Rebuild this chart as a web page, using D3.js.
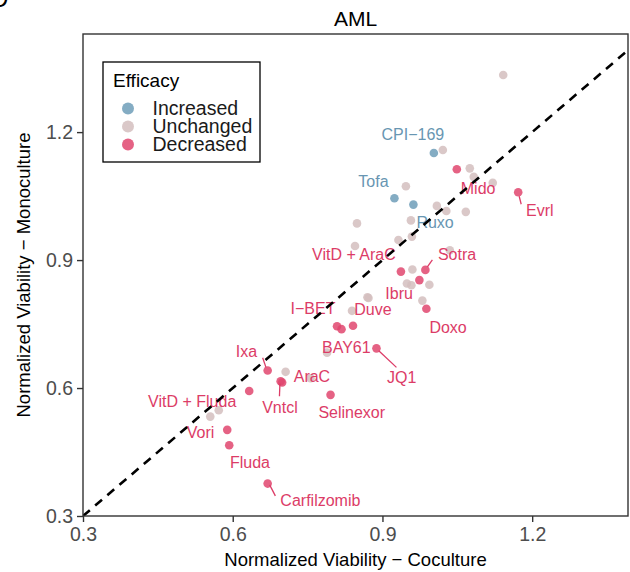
<!DOCTYPE html>
<html>
<head>
<meta charset="utf-8">
<script src="https://cdn.jsdelivr.net/npm/d3@7"></script>
<style>
  body { margin: 0; background: #fff; }
  svg { font-family: "Liberation Sans", Arial, Helvetica, sans-serif; }
</style>
</head>
<body>
<svg width="630" height="572"></svg>
<script>
// labelled drugs (coculture = x, monoculture = y)
var drugs = ["CPI\u2212169", "Tofa", "Ruxo", "Mido", "Evrl", "VitD + AraC", "Sotra", "Ibru", "Doxo",
	"I\u2212BET", "BAY61", "Duve", "JQ1", "Ixa", "AraC", "Vntcl", "VitD + Fluda", "Selinexor",
	"Vori", "Fluda", "Carfilzomib"];
var drugCoculture = [1.003, 0.924, 0.962, 1.049, 1.172, 0.937, 0.986, 0.974, 0.988,
	0.809, 0.818, 0.841, 0.888, 0.670, 0.699, 0.696, 0.633, 0.796,
	0.589, 0.593, 0.670];
var drugMonoculture = [1.151, 1.045, 1.030, 1.113, 1.059, 0.873, 0.877, 0.853, 0.786,
	0.745, 0.738, 0.746, 0.693, 0.641, 0.613, 0.616, 0.593, 0.584,
	0.502, 0.466, 0.376];
var drugEfficacy = ["Increased", "Increased", "Increased", "Decreased", "Decreased", "Decreased", "Decreased", "Decreased", "Decreased",
	"Decreased", "Decreased", "Decreased", "Decreased", "Decreased", "Decreased", "Decreased", "Decreased", "Decreased",
	"Decreased", "Decreased", "Decreased"];

// unlabelled drugs, all unchanged
var otherCoculture = [1.142, 1.021, 1.075, 1.083, 1.121, 0.947, 1.009, 1.028, 1.067, 0.849,
	0.957, 0.959, 0.932, 0.845, 1.035, 0.960, 0.949, 0.958, 0.994, 0.980,
	0.870, 0.872, 0.839, 0.789, 0.706, 0.756, 0.555, 0.572];
var otherMonoculture = [1.334, 1.158, 1.115, 1.095, 1.081, 1.073, 1.027, 1.015, 1.013, 0.986,
	0.993, 0.955, 0.947, 0.933, 0.923, 0.878, 0.845, 0.841, 0.842, 0.805,
	0.813, 0.811, 0.781, 0.683, 0.638, 0.623, 0.533, 0.548];

var efficacyLevels = ["Increased", "Unchanged", "Decreased"];
var xTicks = [0.3, 0.6, 0.9, 1.2];
var yTicks = [0.3, 0.6, 0.9, 1.2];

// label placement (pixel offsets from the point: text centre / baseline, optional segment)
var labelNudge = {
	"CPI\u2212169": [-21, -13.4],
	"Tofa": [-21, -11.5],
	"Ruxo": [21.7, 23.6],
	"Mido": [21.3, 24.7],
	"Evrl": [21.7, 23.3, [1, 4, 3, 12]],
	"VitD + AraC": [-47, -11.7],
	"Sotra": [31.7, -10, [2, -3, 7, -10]],
	"Ibru": [-20.3, 19],
	"Doxo": [21.7, 24],
	"I\u2212BET": [-24, -12.3],
	"BAY61": [4.8, 24.3],
	"Duve": [20, -10.5],
	"JQ1": [25.3, 35, [2.3, 2.4, 20, 19]],
	"Ixa": [-21.2, -13.8, [-5, -12.8, -1.7, -3.2]],
	"AraC": [29.8, -0.8],
	"Vntcl": [-0.7, 31.7, [-0.7, 2.3, -1.2, 15]],
	"VitD + Fluda": [-57, 16.3],
	"Selinexor": [21.2, 23.5],
	"Vori": [-26.7, 8.6],
	"Fluda": [20.7, 23.3],
	"Carfilzomib": [52.7, 22.3, [2, 1.3, 7.7, 12.3]]
};

var pointColour = d3.scaleOrdinal().domain(efficacyLevels).range(["#6f9db8", "#d4bebe", "#e0466f"]);
var textColour = d3.scaleOrdinal().domain(efficacyLevels).range(["#6896b2", "#c9a9a9", "#dc3c67"]);

var svg = d3.select("svg");
var x = d3.scaleLinear().domain([0.3, 1.392]).range([83, 628]);
var y = d3.scaleLinear().domain([0.3, 1.43]).range([516, 34]);

var points = [];
otherCoculture.forEach(function(v, i) {
	points.push({ x: v, y: otherMonoculture[i], eff: "Unchanged" });
});
drugs.forEach(function(d, i) {
	points.push({ name: d, x: drugCoculture[i], y: drugMonoculture[i], eff: drugEfficacy[i] });
});

// cut-off panel letter
svg.append("text").attr("x", -9).attr("y", 7).style("font-size", "24px").text("D");

// title
svg.append("text").attr("x", 355.5).attr("y", 26).attr("text-anchor", "middle")
	.style("font-size", "21px").text("AML");

svg.append("defs").append("clipPath").attr("id", "panel")
	.append("rect").attr("x", 83).attr("y", 34).attr("width", 545).attr("height", 482);

// axes
var xAxis = svg.append("g").attr("transform", "translate(0,516)")
	.call(d3.axisBottom(x).tickValues(xTicks).tickSize(6).tickPadding(4).tickFormat(d3.format(".1f")));
var yAxis = svg.append("g").attr("transform", "translate(83,0)")
	.call(d3.axisLeft(y).tickValues(yTicks).tickSize(6).tickPadding(4).tickFormat(d3.format(".1f")));
[xAxis, yAxis].forEach(function(a) {
	a.select(".domain").remove();
	a.selectAll(".tick line").attr("stroke", "#333").attr("stroke-width", 1.4);
	a.selectAll(".tick text").attr("fill", "#4d4d4d").style("font-size", "19.5px")
		.style("font-family", "'Liberation Sans', Arial, sans-serif");
});
xAxis.selectAll(".tick text").attr("dy", "0.78em");

svg.append("text").attr("x", 355.5).attr("y", 566).attr("text-anchor", "middle")
	.style("font-size", "18.5px").text("Normalized Viability \u2212 Coculture");
svg.append("text").attr("transform", "translate(30,275) rotate(-90)").attr("text-anchor", "middle")
	.style("font-size", "18.5px").text("Normalized Viability \u2212 Monoculture");

var plot = svg.append("g").attr("clip-path", "url(#panel)");

plot.selectAll("circle").data(points).enter().append("circle")
	.attr("cx", function(d) { return x(d.x); })
	.attr("cy", function(d) { return y(d.y); })
	.attr("r", 4.3)
	.attr("fill", function(d) { return pointColour(d.eff); })
	.attr("fill-opacity", 0.85);

var labelled = points.filter(function(d) { return d.name; });

plot.selectAll("line.seg").data(labelled.filter(function(d) { return labelNudge[d.name][2]; }))
	.enter().append("line").attr("class", "seg")
	.attr("x1", function(d) { return x(d.x) + labelNudge[d.name][2][0]; })
	.attr("y1", function(d) { return y(d.y) + labelNudge[d.name][2][1]; })
	.attr("x2", function(d) { return x(d.x) + labelNudge[d.name][2][2]; })
	.attr("y2", function(d) { return y(d.y) + labelNudge[d.name][2][3]; })
	.attr("stroke", function(d) { return textColour(d.eff); })
	.attr("stroke-width", 1.3);

plot.selectAll("text.lab").data(labelled).enter().append("text").attr("class", "lab")
	.attr("x", function(d) { return x(d.x) + labelNudge[d.name][0]; })
	.attr("y", function(d) { return y(d.y) + labelNudge[d.name][1]; })
	.attr("text-anchor", "middle")
	.attr("fill", function(d) { return textColour(d.eff); })
	.style("font-size", "16px")
	.text(function(d) { return d.name; });

// identity line
plot.append("line")
	.attr("x1", x(0.3)).attr("y1", y(0.3))
	.attr("x2", x(1.43)).attr("y2", y(1.43))
	.attr("stroke", "#000").attr("stroke-width", 2.6).attr("stroke-dasharray", "9,7");

// panel border
svg.append("rect").attr("x", 83).attr("y", 34).attr("width", 545).attr("height", 482)
	.attr("fill", "none").attr("stroke", "#333").attr("stroke-width", 1.4);

// legend
var legend = svg.append("g");
legend.append("rect").attr("x", 103).attr("y", 62).attr("width", 157).attr("height", 100)
	.attr("fill", "#fff").attr("stroke", "#000").attr("stroke-width", 1.3);
legend.append("text").attr("x", 113).attr("y", 87).style("font-size", "19px").text("Efficacy");
var items = legend.selectAll("g.item").data(efficacyLevels).enter().append("g")
	.attr("transform", function(d, i) { return "translate(0," + (i * 18) + ")"; });
items.append("circle").attr("cx", 128).attr("cy", 108.5).attr("r", 6)
	.attr("fill", function(d) { return pointColour(d); }).attr("fill-opacity", 0.85);
items.append("text").attr("x", 152.5).attr("y", 114.5).style("font-size", "19.5px")
	.attr("fill", "#1a1a1a").text(function(d) { return d; });
</script>
</body>
</html>
